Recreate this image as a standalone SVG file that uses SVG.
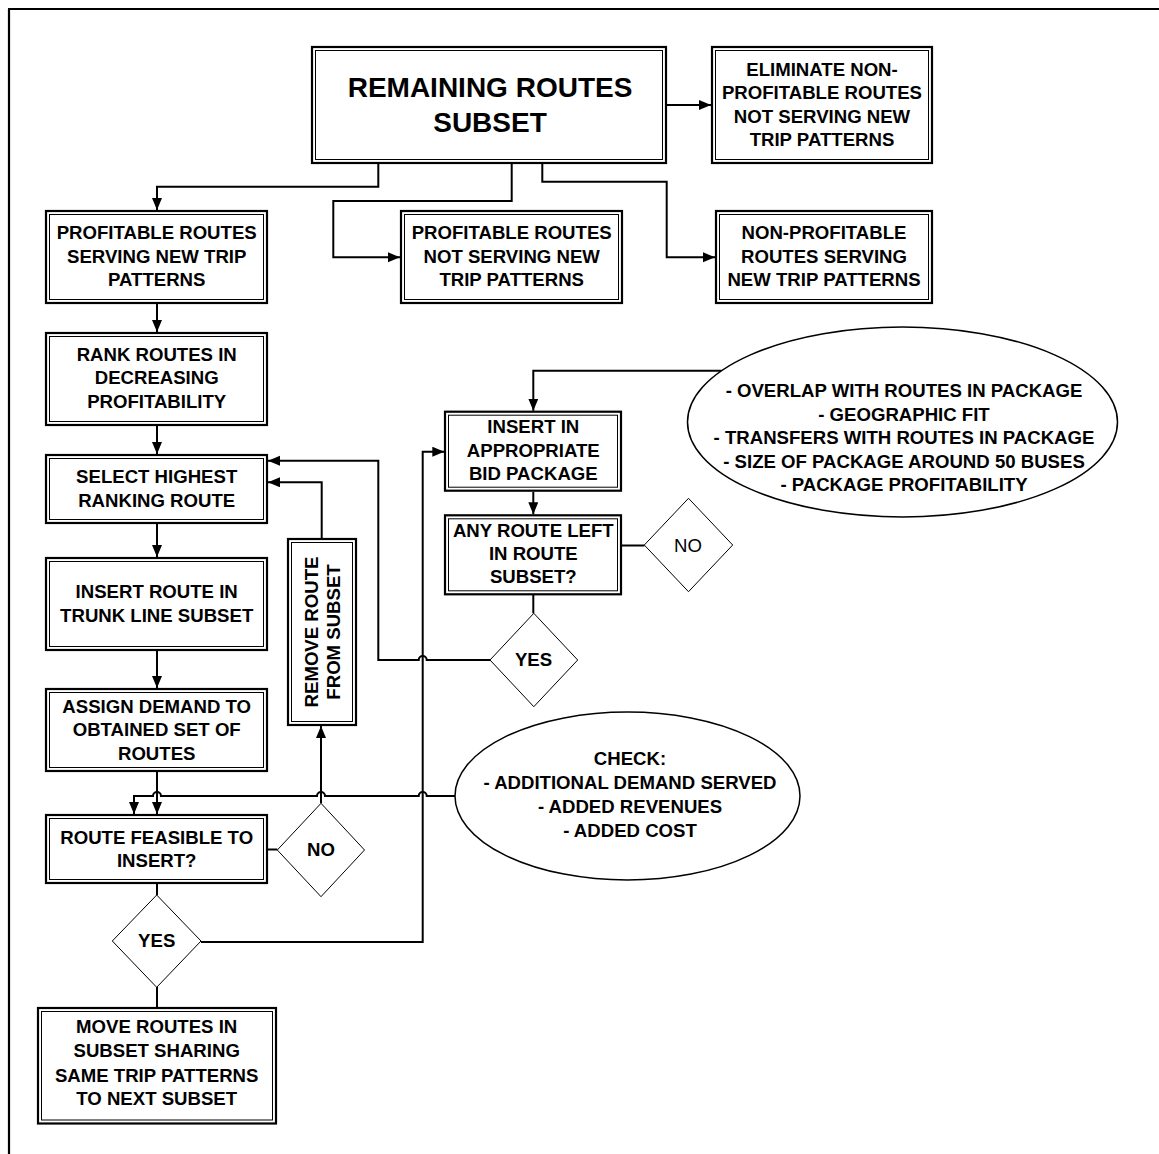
<svg xmlns="http://www.w3.org/2000/svg" width="1159" height="1154" viewBox="0 0 1159 1154">
<defs>
<marker id="ah" markerUnits="userSpaceOnUse" markerWidth="13" markerHeight="11" refX="12" refY="5" orient="auto">
<path d="M0,0 L12,5 L0,10 z" fill="#000"/>
</marker>
</defs>
<style>
.o{fill:#fff;stroke:#000;stroke-width:2.2}
.i{fill:none;stroke:#000;stroke-width:1}
.t{font-family:"Liberation Sans",Arial,sans-serif;font-weight:bold;font-size:18.6px;text-anchor:middle;fill:#000}
.big{font-size:28px}
.reg{font-weight:normal}
.c{fill:none;stroke:#000;stroke-width:2}
.a{marker-end:url(#ah)}
.d{fill:#fff;stroke:#000;stroke-width:1}
.e{fill:#fff;stroke:#000;stroke-width:1.5}
</style>
<rect width="1159" height="1154" fill="#fff"/>
<g id="frame"><path d="M8,9 H1159 M9,9 V1154" fill="none" stroke="#000" stroke-width="2.2"/></g>

<g id="connectors">
<path class="c a" d="M378.3,164 V186.7 H157 V210"/>
<path class="c a" d="M511.7,164 V201 H333.3 V257.3 H400"/>
<path class="c a" d="M542.3,164 V181.7 H666.7 V257.3 H715"/>
<path class="c a" d="M667,105 H711"/>
<path class="c a" d="M157,304 V332"/>
<path class="c a" d="M157,426 V454"/>
<path class="c a" d="M157,524 V557"/>
<path class="c a" d="M157,651 V688"/>
<path class="c a" d="M157,772 V814"/>
<path class="c a" d="M455,796 H426.7 A4,4 0 0 0 418.7,796 H325 A4,4 0 0 0 317,796 H161 A4,4 0 0 0 153,796 H134 V814"/>
<path class="c a" d="M321,803.3 V726"/>
<path class="c a" d="M321.7,538.3 V482.3 H268"/>
<path class="c a" d="M490,660 H426.7 A4,4 0 0 0 418.7,660 H378.3 V460.7 H268"/>
<path class="c a" d="M201,942 H422.7 V451.7 H444.3"/>
<path class="c a" d="M721.5,370.7 H533.3 V410.7"/>
<path class="c a" d="M533.3,492 V514.3"/>
<path class="c" d="M622,545.5 H644.5"/>
<path class="c" d="M533.3,595 V613.3"/>
<path class="c" d="M268,849.5 H277.3"/>
<path class="c" d="M157,884 V895"/>
<path class="c" d="M157,987 V1007"/>
</g>

<g id="n-remaining">
<rect class="o" x="312" y="47" width="354" height="116"/>
<rect class="i" x="315.5" y="50.5" width="347" height="109"/>
<text class="t big" x="490" y="96.7">REMAINING ROUTES</text>
<text class="t big" x="490" y="131.7">SUBSET</text>
</g>
<g id="n-eliminate">
<rect class="o" x="712" y="47" width="220" height="116"/>
<rect class="i" x="715.5" y="50.5" width="213" height="109"/>
<text class="t" x="822" y="76">ELIMINATE NON-</text>
<text class="t" x="822" y="99.3">PROFITABLE ROUTES</text>
<text class="t" x="822" y="122.7">NOT SERVING NEW</text>
<text class="t" x="822" y="146.3">TRIP PATTERNS</text>
</g>
<g id="n-prof-serving">
<rect class="o" x="46" y="211" width="221" height="92"/>
<rect class="i" x="49.5" y="214.5" width="214" height="85"/>
<text class="t" x="156.7" y="239.3">PROFITABLE ROUTES</text>
<text class="t" x="156.7" y="262.7">SERVING NEW TRIP</text>
<text class="t" x="156.7" y="286">PATTERNS</text>
</g>
<g id="n-prof-not">
<rect class="o" x="401" y="211" width="221" height="92"/>
<rect class="i" x="404.5" y="214.5" width="214" height="85"/>
<text class="t" x="511.7" y="239.3">PROFITABLE ROUTES</text>
<text class="t" x="511.7" y="262.7">NOT SERVING NEW</text>
<text class="t" x="511.7" y="286">TRIP PATTERNS</text>
</g>
<g id="n-nonprof">
<rect class="o" x="716" y="211" width="216" height="92"/>
<rect class="i" x="719.5" y="214.5" width="209" height="85"/>
<text class="t" x="824" y="239.3">NON-PROFITABLE</text>
<text class="t" x="824" y="262.7">ROUTES SERVING</text>
<text class="t" x="824" y="286">NEW TRIP PATTERNS</text>
</g>
<g id="n-rank">
<rect class="o" x="46" y="333" width="221" height="92"/>
<rect class="i" x="49.5" y="336.5" width="214" height="85"/>
<text class="t" x="156.7" y="360.7">RANK ROUTES IN</text>
<text class="t" x="156.7" y="384">DECREASING</text>
<text class="t" x="156.7" y="408.3">PROFITABILITY</text>
</g>
<g id="n-select">
<rect class="o" x="46" y="455" width="221" height="68"/>
<rect class="i" x="49.5" y="458.5" width="214" height="61"/>
<text class="t" x="156.7" y="483.3">SELECT HIGHEST</text>
<text class="t" x="156.7" y="506.7">RANKING ROUTE</text>
</g>
<g id="n-insert-trunk">
<rect class="o" x="46" y="558" width="221" height="92"/>
<rect class="i" x="49.5" y="561.5" width="214" height="85"/>
<text class="t" x="156.7" y="597.7">INSERT ROUTE IN</text>
<text class="t" x="156.7" y="621.7">TRUNK LINE SUBSET</text>
</g>
<g id="n-assign">
<rect class="o" x="46" y="689" width="221" height="82"/>
<rect class="i" x="49.5" y="692.5" width="214" height="75"/>
<text class="t" x="156.7" y="712.7">ASSIGN DEMAND TO</text>
<text class="t" x="156.7" y="736">OBTAINED SET OF</text>
<text class="t" x="156.7" y="760">ROUTES</text>
</g>
<g id="n-feasible">
<rect class="o" x="46" y="815" width="221" height="68"/>
<rect class="i" x="49.5" y="818.5" width="214" height="61"/>
<text class="t" x="156.7" y="844">ROUTE FEASIBLE TO</text>
<text class="t" x="156.7" y="867.3">INSERT?</text>
</g>
<g id="n-remove">
<rect class="o" x="288" y="539" width="68" height="186"/>
<rect class="i" x="291.5" y="542.5" width="61" height="179"/>
<text class="t" transform="translate(317.5,632) rotate(-90)">REMOVE ROUTE</text>
<text class="t" transform="translate(340,632) rotate(-90)">FROM SUBSET</text>
</g>
<g id="n-bid">
<rect class="o" x="445" y="411.7" width="176" height="79"/>
<rect class="i" x="448.5" y="415.2" width="169" height="72"/>
<text class="t" x="533.3" y="433.3">INSERT IN</text>
<text class="t" x="533.3" y="456.7">APPROPRIATE</text>
<text class="t" x="533.3" y="480">BID PACKAGE</text>
</g>
<g id="n-anyleft">
<rect class="o" x="445" y="515.3" width="176" height="79"/>
<rect class="i" x="448.5" y="518.8" width="169" height="72"/>
<text class="t" x="533.3" y="536.7">ANY ROUTE LEFT</text>
<text class="t" x="533.3" y="560">IN ROUTE</text>
<text class="t" x="533.3" y="583.3">SUBSET?</text>
</g>
<g id="n-move">
<rect class="o" x="38" y="1008" width="238" height="115.5"/>
<rect class="i" x="41.5" y="1011.5" width="231" height="108.5"/>
<text class="t" x="156.7" y="1033.3">MOVE ROUTES IN</text>
<text class="t" x="156.7" y="1057.3">SUBSET SHARING</text>
<text class="t" x="156.7" y="1081.5">SAME TRIP PATTERNS</text>
<text class="t" x="156.7" y="1105">TO NEXT SUBSET</text>
</g>
<g id="n-no-right">
<path class="d" d="M688.5,498.3 L732.7,545 L688.5,591.7 L644.3,545 z"/>
<text class="t reg" x="688" y="551.7">NO</text>
</g>
<g id="n-yes-right">
<path class="d" d="M533.8,613.3 L577.7,660 L533.8,706.7 L490,660 z"/>
<text class="t" x="533.5" y="666">YES</text>
</g>
<g id="n-no-left">
<path class="d" d="M321,803.3 L364.5,850 L321,896.7 L277.3,850 z"/>
<text class="t" x="321" y="856">NO</text>
</g>
<g id="n-yes-left">
<path class="d" d="M156.7,895 L201,941 L156.7,987.3 L112.3,941 z"/>
<text class="t" x="156.7" y="947.3">YES</text>
</g>
<g id="n-criteria">
<ellipse class="e" cx="902.5" cy="422" rx="215" ry="95"/>
<text class="t" x="904" y="397.3">- OVERLAP WITH ROUTES IN PACKAGE</text>
<text class="t" x="904" y="420.7">- GEOGRAPHIC FIT</text>
<text class="t" x="904" y="444">- TRANSFERS WITH ROUTES IN PACKAGE</text>
<text class="t" x="904" y="467.7">- SIZE OF PACKAGE AROUND 50 BUSES</text>
<text class="t" x="904" y="491">- PACKAGE PROFITABILITY</text>
</g>
<g id="n-check">
<ellipse class="e" cx="627.5" cy="796" rx="172.5" ry="84"/>
<text class="t" x="630" y="765">CHECK:</text>
<text class="t" x="630" y="789.3">- ADDITIONAL DEMAND SERVED</text>
<text class="t" x="630" y="812.7">- ADDED REVENUES</text>
<text class="t" x="630" y="836.7">- ADDED COST</text>
</g>
</svg>
